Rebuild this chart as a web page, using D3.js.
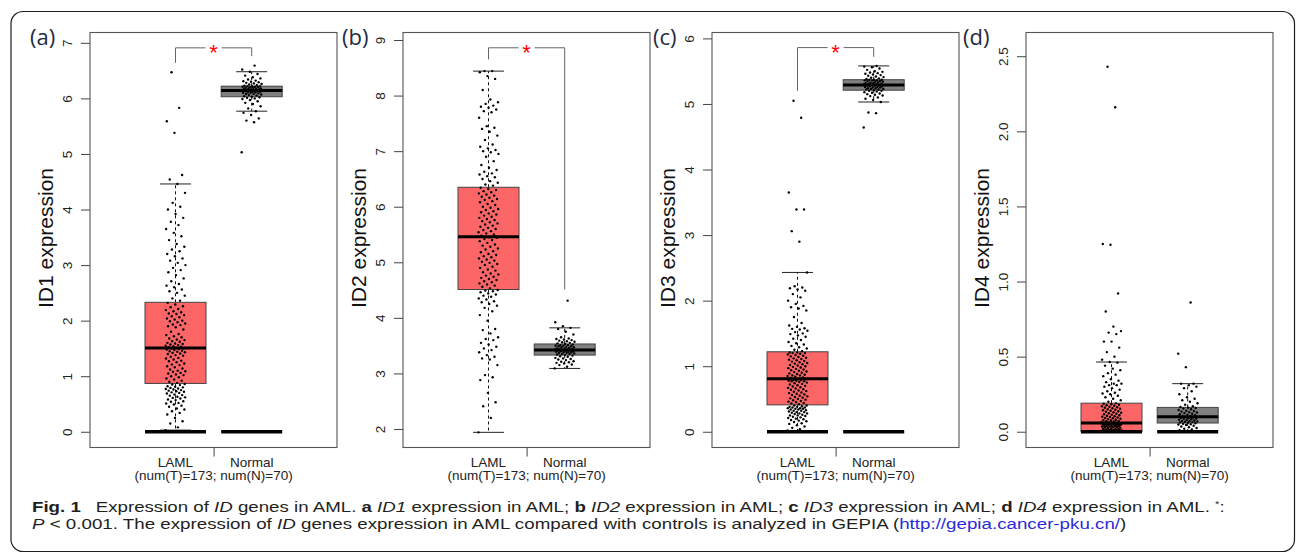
<!DOCTYPE html>
<html>
<head>
<meta charset="utf-8">
<script src="https://cdn.jsdelivr.net/npm/d3@7"></script>
<style>
  body { margin: 0; background: #fff; }
  svg { display: block; }
  text { white-space: pre; }
</style>
</head>
<body>
<script>
// ---- data -------------------------------------------------------------
const groups = ["LAML", "Normal"];
const groupColors = ["#fd6666", "#808080"];
const genes = ["ID1", "ID2", "ID3", "ID4"];
const panelLetters = ["(a)", "(b)", "(c)", "(d)"];
const sampleNote = "(num(T)=173; num(N)=70)";

const yTicks = [
  [0, 1, 2, 3, 4, 5, 6, 7],
  [2, 3, 4, 5, 6, 7, 8, 9],
  [0, 1, 2, 3, 4, 5, 6],
  [0, 0.5, 1, 1.5, 2, 2.5]
];
const yDomains = [[-0.283, 7.186], [1.667, 9.135], [-0.24, 6.09], [-0.105, 2.658]];

// box statistics: [lower whisker, Q1, median, Q3, upper whisker]
const boxLaml = [
  [0.03, 0.87, 1.51, 2.33, 4.46],
  [1.94, 4.51, 5.46, 6.35, 8.44],
  [0.02, 0.41, 0.81, 1.22, 2.43],
  [0, 0, 0.058, 0.19, 0.464]
];
const boxNormal = [
  [5.77, 6.03, 6.14, 6.22, 6.48],
  [3.09, 3.33, 3.42, 3.53, 3.82],
  [5.03, 5.21, 5.29, 5.37, 5.58],
  [0, 0.058, 0.10, 0.162, 0.32]
];

// significance brackets: [top, left end, right end]; ID4 has none
const brackets = [[6.91, 6.64, 6.76], [8.86, 8.65, 4.51], [5.86, 5.20, 5.72], null];

// per-sample expression, log2(TPM+1)
const id1Laml = [
  0.03,0.08,0.15,0.19,0.25,0.31,0.34,0.37,0.40,0.42,0.45,0.47,0.49,0.51,0.52,0.54,0.55,0.57,0.58,0.60,
  0.61,0.62,0.63,0.65,0.66,0.67,0.69,0.70,0.71,0.72,0.73,0.74,0.75,0.76,0.77,0.78,0.79,0.80,0.81,0.82,
  0.84,0.85,0.86,
  0.88,0.90,0.92,0.94,0.96,0.98,1.00,1.02,1.03,1.05,1.06,1.08,1.09,1.10,1.12,1.14,1.16,1.18,1.20,1.21,
  1.23,1.25,1.27,1.28,1.30,1.32,1.33,1.35,1.37,1.38,1.40,1.41,1.42,1.43,1.44,1.45,1.46,1.47,1.48,1.49,
  1.50,1.50,1.51,
  1.52,1.53,1.54,1.55,1.56,1.57,1.58,1.59,1.60,1.62,1.63,1.65,1.66,1.68,1.70,1.72,1.74,1.76,1.80,1.84,
  1.88,1.90,1.92,1.93,1.95,1.97,1.99,2.00,2.02,2.04,2.06,2.08,2.10,2.12,2.13,2.15,2.17,2.19,2.21,2.24,
  2.26,2.29,2.32,
  2.36,2.40,2.45,2.50,2.53,2.56,2.60,2.63,2.66,2.71,2.76,2.82,2.87,2.91,2.95,3.00,3.04,3.08,3.12,3.16,
  3.20,3.25,3.28,3.33,3.38,3.45,3.52,3.58,3.65,3.72,3.78,3.85,3.92,4.00,4.05,4.12,4.30,4.46,4.54,4.62,
  5.38,5.59,5.83,6.47
];
const id1Normal = [
  5.03,5.57,5.60,5.64,5.70,5.74,5.77,5.82,5.86,5.90,5.92,5.95,5.97,5.99,6.00,6.01,6.02,
  6.03,6.04,6.05,6.06,6.07,6.08,6.08,6.09,6.10,6.10,6.11,6.11,6.12,6.12,6.13,6.13,6.14,
  6.14,6.15,6.15,6.16,6.16,6.17,6.17,6.18,6.18,6.19,6.19,6.20,6.20,6.21,6.21,6.22,6.22,6.22,
  6.23,6.24,6.25,6.26,6.27,6.28,6.29,6.30,6.31,6.32,6.34,6.36,6.38,6.41,6.44,6.48,6.52,6.59
];
const id2Laml = [
  1.94,2.20,2.41,2.48,2.65,2.88,2.93,2.97,3.15,3.25,3.27,3.30,3.33,3.38,3.42,3.45,3.48,3.52,3.55,3.60,
  3.62,3.65,3.72,3.78,3.80,3.95,4.05,4.12,4.18,4.22,4.25,4.28,4.30,4.33,4.35,4.38,4.40,4.42,4.44,4.46,
  4.48,4.49,4.50,
  4.53,4.56,4.58,4.60,4.62,4.64,4.66,4.68,4.70,4.72,4.74,4.76,4.78,4.80,4.82,4.85,4.87,4.90,4.92,4.95,
  4.97,4.99,5.01,5.03,5.05,5.07,5.09,5.11,5.13,5.15,5.18,5.20,5.23,5.25,5.28,5.30,5.32,5.35,5.38,5.40,
  5.42,5.44,5.45,
  5.48,5.50,5.52,5.54,5.56,5.58,5.60,5.62,5.64,5.66,5.68,5.70,5.72,5.74,5.76,5.78,5.80,5.82,5.84,5.86,
  5.88,5.90,5.92,5.94,5.96,5.98,6.00,6.03,6.05,6.08,6.10,6.12,6.14,6.16,6.18,6.20,6.22,6.24,6.26,6.28,
  6.30,6.32,6.34,
  6.38,6.40,6.43,6.46,6.50,6.53,6.55,6.58,6.60,6.63,6.66,6.70,6.75,6.82,6.90,6.95,6.98,7.00,7.02,7.05,
  7.08,7.12,7.20,7.28,7.35,7.40,7.42,7.45,7.60,7.70,7.72,7.75,7.78,7.80,7.82,7.85,7.88,7.93,8.10,8.30,
  8.35,8.42,8.44,8.44
];
const id2Normal = [
  3.09,3.12,3.15,3.16,3.18,3.19,3.20,3.21,3.22,3.24,3.25,3.26,3.27,3.28,3.30,3.31,3.32,
  3.33,3.34,3.35,3.35,3.36,3.37,3.37,3.38,3.38,3.39,3.39,3.40,3.40,3.41,3.41,3.42,3.42,
  3.43,3.43,3.44,3.44,3.45,3.45,3.46,3.47,3.47,3.48,3.49,3.49,3.50,3.50,3.51,3.51,3.52,3.53,
  3.54,3.55,3.56,3.57,3.58,3.59,3.60,3.61,3.62,3.63,3.65,3.70,3.75,3.80,3.82,3.85,3.92,4.31
];
const id3Laml = [
  0.02,0.04,0.06,0.08,0.10,0.12,0.13,0.15,0.16,0.17,0.18,0.19,0.20,0.21,0.22,0.23,0.24,0.25,0.25,0.26,
  0.27,0.28,0.28,0.29,0.30,0.30,0.31,0.32,0.32,0.33,0.34,0.34,0.35,0.35,0.36,0.36,0.37,0.37,0.38,0.38,
  0.39,0.40,0.40,
  0.42,0.43,0.44,0.45,0.46,0.47,0.48,0.49,0.50,0.51,0.52,0.53,0.54,0.55,0.56,0.57,0.58,0.59,0.60,0.61,
  0.62,0.63,0.64,0.65,0.66,0.67,0.68,0.69,0.70,0.71,0.72,0.73,0.74,0.75,0.76,0.77,0.77,0.78,0.78,0.79,
  0.79,0.80,0.80,
  0.82,0.83,0.84,0.85,0.86,0.86,0.87,0.88,0.89,0.90,0.91,0.92,0.93,0.94,0.95,0.96,0.97,0.98,0.99,1.00,
  1.01,1.02,1.03,1.04,1.05,1.06,1.07,1.08,1.09,1.10,1.11,1.12,1.13,1.14,1.15,1.16,1.17,1.18,1.19,1.20,
  1.20,1.21,1.21,
  1.23,1.25,1.27,1.29,1.31,1.33,1.35,1.37,1.40,1.42,1.45,1.47,1.49,1.50,1.52,1.54,1.56,1.57,1.58,1.60,
  1.62,1.66,1.75,1.85,1.88,1.90,1.92,1.95,2.00,2.05,2.10,2.15,2.17,2.19,2.20,2.22,2.43,2.90,3.06,3.39,
  3.39,3.65,4.79,5.05
];
const id3Normal = [
  4.64,4.86,4.87,5.03,5.06,5.08,5.10,5.12,5.13,5.14,5.15,5.16,5.17,5.18,5.19,5.20,5.20,
  5.21,5.22,5.22,5.23,5.23,5.24,5.24,5.25,5.25,5.26,5.26,5.27,5.27,5.28,5.28,5.29,5.29,
  5.30,5.30,5.31,5.31,5.32,5.32,5.33,5.33,5.34,5.34,5.35,5.35,5.36,5.36,5.36,5.37,5.37,5.37,
  5.38,5.39,5.40,5.41,5.42,5.43,5.44,5.45,5.46,5.47,5.48,5.49,5.50,5.52,5.54,5.56,5.57,5.58
];
const id4Laml = [
  0,0,0,0,0, 0,0,0,0,0, 0,0,0,0,0, 0,0,0,0,0, 0,0,0,0,0,
  0,0,0,0,0, 0,0,0,0,0, 0,0,0,0,0, 0.002,0.003,0.004,0.005,0.006,
  0.006,0.007,0.008,0.008,0.009, 0.009,0.010,0.010,0.010,0.010,
  0.011,0.012,0.015,0.018,0.020,0.020,0.022,0.025,0.027,0.030,0.030,0.032,0.034,0.035,0.037,0.038,
  0.040,0.040,0.042,0.043,0.045,0.046,0.048,0.049,0.050,0.051,0.052,0.054,0.055,0.056,0.057,0.058,
  0.060,0.062,0.065,0.068,0.070,0.072,0.075,0.078,0.080,0.083,0.086,0.090,0.092,0.095,0.098,0.100,
  0.103,0.106,0.110,0.113,0.116,0.120,0.123,0.126,0.130,0.133,0.136,0.140,0.143,0.146,0.150,0.153,
  0.156,0.160,0.163,0.166,0.170,0.173,0.176,0.180,0.183,0.186,0.189,
  0.20,0.21,0.22,0.23,0.24,0.25,0.255,0.26,0.27,0.28,0.29,0.30,0.31,0.31,0.32,0.32,0.33,0.34,0.35,0.37,
  0.38,0.39,0.41,0.42,0.44,0.46,0.464,0.48,0.50,0.53,0.56,0.60,0.60,0.65,0.66,0.67,0.70,0.80,0.92,1.245,
  1.25,2.16,2.43
];
const id4Normal = [
  0,0,0,0,0.005,0.010,0.015,0.020,0.025,0.030,0.035,0.040,0.045,0.048,0.050,0.053,0.056,
  0.060,0.062,0.064,0.066,0.068,0.070,0.072,0.075,0.078,0.080,0.083,0.086,0.088,0.090,0.093,0.095,0.098,0.100,
  0.103,0.106,0.110,0.113,0.116,0.120,0.124,0.128,0.130,0.134,0.138,0.140,0.145,0.150,0.155,0.158,0.160,
  0.165,0.170,0.180,0.190,0.200,0.210,0.220,0.230,0.250,0.270,0.290,0.300,0.310,0.320,0.320,0.430,0.520,0.860
];
const valuesLaml = [id1Laml, id2Laml, id3Laml, id4Laml];
const valuesNormal = [id1Normal, id2Normal, id3Normal, id4Normal];

// ---- layout -----------------------------------------------------------
const W = 1296, H = 554;
const panelLeft = [90, 403, 712, 1026];
const panelW = 247, plotTop = 32.5, plotBottom = 447.5;
const letterX = [30, 342, 653, 963];
const boxW = 61, capW = 31, jitterAmp = 10;
const axisFont = "'Liberation Sans', Arial, Helvetica, sans-serif";

const svg = d3.select("body").append("svg")
  .attr("width", W).attr("height", H)
  .attr("viewBox", `0 0 ${W} ${H}`);

svg.append("rect").attr("width", W).attr("height", H).attr("fill", "#fff");

// rounded figure frame
svg.append("rect")
  .attr("x", 11).attr("y", 11.5).attr("width", 1283.5).attr("height", 540)
  .attr("rx", 12).attr("ry", 12)
  .attr("fill", "none").attr("stroke", "#1e1e1e").attr("stroke-width", 1.2);

genes.forEach((gene, i) => {
  const left = panelLeft[i];
  const y = d3.scaleLinear().domain(yDomains[i]).range([plotBottom, plotTop]);
  const x = d3.scalePoint().domain(groups).range([left + 85.5, left + 161.7]);
  const g = svg.append("g").attr("font-family", axisFont);

  // y axis
  const fmt = i === 3 ? d3.format(".1f") : d3.format("d");
  const yAxis = g.append("g")
    .attr("transform", `translate(${left},0)`)
    .call(d3.axisLeft(y).tickValues(yTicks[i]).tickSize(9).tickFormat(fmt));
  yAxis.select(".domain").remove();
  yAxis.selectAll(".tick line").attr("stroke", "#444");
  yAxis.selectAll(".tick text")
    .attr("x", null).attr("dy", null)
    .attr("transform", "translate(-18.5,0) rotate(-90)")
    .attr("text-anchor", "middle")
    .attr("fill", "#222")
    .attr("font-size", 13.5)
    .attr("font-family", axisFont);

  // x axis: a single tick between the two groups
  const xMid = d3.scaleLinear().domain([0, 1]).range([x(groups[0]), x(groups[1])]);
  const xAxis = g.append("g")
    .attr("transform", `translate(0,${plotBottom})`)
    .call(d3.axisBottom(xMid).tickValues([0.5]).tickSize(9).tickFormat(""));
  xAxis.select(".domain").remove();
  xAxis.selectAll(".tick line").attr("stroke", "#444");

  groups.forEach(gn => {
    g.append("text")
      .attr("x", x(gn)).attr("y", 466.5)
      .attr("text-anchor", "middle").attr("font-size", 13.5).attr("fill", "#222")
      .text(gn);
  });
  g.append("text")
    .attr("x", xMid(0.5)).attr("y", 480)
    .attr("text-anchor", "middle").attr("font-size", 13.5).attr("fill", "#222")
    .text(sampleNote);

  // y label
  g.append("text")
    .attr("transform", `translate(${left - 37},238) rotate(-90)`)
    .attr("text-anchor", "middle").attr("font-size", 21).attr("fill", "#111")
    .text(`${gene} expression`);

  // boxes
  const boxes = [boxLaml[i], boxNormal[i]];
  const vals = [valuesLaml[i], valuesNormal[i]];
  groups.forEach((gn, gi) => {
    const cx = x(gn);
    const [lo, q1, med, q3, hi] = boxes[gi];
    const wg = g.append("g");
    // whiskers
    wg.append("line").attr("x1", cx).attr("x2", cx).attr("y1", y(q3)).attr("y2", y(hi))
      .attr("stroke", "#111").attr("stroke-dasharray", "3,3");
    if (q1 > lo) {
      wg.append("line").attr("x1", cx).attr("x2", cx).attr("y1", y(q1)).attr("y2", y(lo))
        .attr("stroke", "#111").attr("stroke-dasharray", "3,3");
    }
    [lo, hi].forEach(v => {
      wg.append("line").attr("x1", cx - capW / 2).attr("x2", cx + capW / 2)
        .attr("y1", y(v)).attr("y2", y(v)).attr("stroke", "#222");
    });
    // box
    wg.append("rect")
      .attr("x", cx - boxW / 2).attr("width", boxW)
      .attr("y", y(q3)).attr("height", y(q1) - y(q3))
      .attr("fill", groupColors[gi]).attr("stroke", "#444").attr("stroke-width", 1);
    // zero bar
    if (yDomains[i][0] < 0) {
      wg.append("line").attr("x1", cx - boxW / 2).attr("x2", cx + boxW / 2)
        .attr("y1", y(0)).attr("y2", y(0)).attr("stroke", "#000").attr("stroke-width", 3.5);
    }
    // median
    wg.append("line").attr("x1", cx - boxW / 2).attr("x2", cx + boxW / 2)
      .attr("y1", y(med)).attr("y2", y(med)).attr("stroke", "#000").attr("stroke-width", 3);
    // jittered samples
    wg.selectAll("circle").data(vals[gi]).join("circle")
      .attr("cx", (d, k) => cx + (((k * 0.6180339887) % 1) - 0.5) * 2 * jitterAmp)
      .attr("cy", d => y(d))
      .attr("r", 1.2)
      .attr("fill", "#000");
  });

  // frame
  g.append("rect")
    .attr("x", left).attr("y", plotTop).attr("width", panelW).attr("height", plotBottom - plotTop)
    .attr("fill", "none").attr("stroke", "#555").attr("stroke-width", 1.1);

  // significance bracket
  const br = brackets[i];
  if (br) {
    const xl = x(groups[0]), xr = x(groups[1]), xm = xMid(0.5);
    g.append("path")
      .attr("d", `M${xl},${y(br[1])}V${y(br[0])}H${xm - 8}M${xm + 8},${y(br[0])}H${xr}V${y(br[2])}`)
      .attr("fill", "none").attr("stroke", "#666").attr("stroke-width", 1);
    g.append("text")
      .attr("x", xm).attr("y", y(br[0]) + 12.5)
      .attr("text-anchor", "middle").attr("font-size", 22).attr("fill", "#ff0000")
      .text("*");
  }

  // panel letter
  svg.append("text")
    .attr("x", letterX[i]).attr("y", 44.7)
    .attr("font-family", "'Open Sans', 'Noto Sans', sans-serif")
    .attr("font-size", 22).attr("fill", "#1f2b44")
    .text(panelLetters[i]);
});

// ---- caption ---------------------------------------------------------
const capFont = "'Liberation Sans', Arial, sans-serif";
function caption(yPos, width, parts) {
  const t = svg.append("text")
    .attr("x", 0).attr("y", 0)
    .attr("font-family", capFont).attr("font-size", 15).attr("fill", "#231f20");
  parts.forEach(p => {
    const s = t.append("tspan").text(p.t);
    if (p.b) s.attr("font-weight", "bold");
    if (p.i) s.attr("font-style", "italic");
    if (p.c) s.attr("fill", p.c);
    if (p.dx) s.attr("dx", p.dx);
    if (p.sup) s.attr("baseline-shift", "super").attr("font-size", 9);
  });
  // condense the line horizontally to its set width
  const natural = t.node().getComputedTextLength();
  const sx = natural > 0 ? width / natural : 1;
  t.attr("transform", `translate(32,${yPos}) scale(${sx},1)`);
}
caption(511.5, 1178, [
  { t: "Fig. 1", b: true },
  { t: "Expression of ", dx: 12 },
  { t: "ID", i: true },
  { t: " genes in AML. " },
  { t: "a", b: true }, { t: " " }, { t: "ID1", i: true }, { t: " expression in AML; " },
  { t: "b", b: true }, { t: " " }, { t: "ID2", i: true }, { t: " expression in AML; " },
  { t: "c", b: true }, { t: " " }, { t: "ID3", i: true }, { t: " expression in AML; " },
  { t: "d", b: true }, { t: " " }, { t: "ID4", i: true }, { t: " expression in AML. " },
  { t: "*", sup: true },
  { t: ":" }
]);
caption(529, 1095, [
  { t: "P", i: true },
  { t: " < 0.001. The expression of " },
  { t: "ID", i: true },
  { t: " genes expression in AML compared with controls is analyzed in GEPIA (" },
  { t: "http://gepia.cancer-pku.cn/", c: "#2b2bd9" },
  { t: ")" }
]);
</script>
</body>
</html>
